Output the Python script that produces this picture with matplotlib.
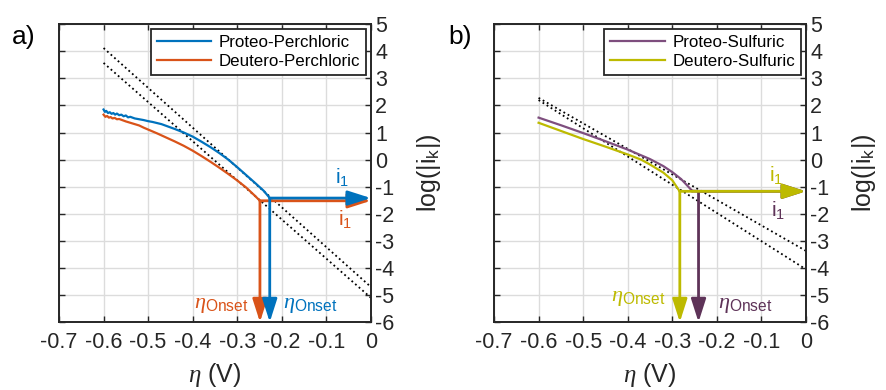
import matplotlib.pyplot as plt
from matplotlib.ticker import FormatStrFormatter

plt.rcParams['font.family'] = ['Liberation Sans', 'DejaVu Sans']
plt.rcParams['axes.unicode_minus'] = False
plt.rcParams['mathtext.fontset'] = 'custom'
plt.rcParams['mathtext.rm'] = 'Liberation Sans'
plt.rcParams['mathtext.it'] = 'Liberation Serif:italic'

# ---------- panel a data ----------
proteo_pc_eta = [-0.600, -0.597, -0.594, -0.590, -0.586, -0.582, -0.578, -0.574, -0.570, -0.565,
                 -0.560, -0.555, -0.550, -0.545, -0.540, -0.530, -0.520, -0.510, -0.500, -0.490,
                 -0.480, -0.470, -0.460, -0.450, -0.440, -0.420, -0.400, -0.380, -0.360, -0.340,
                 -0.320, -0.300, -0.280, -0.260, -0.240, -0.227]
proteo_pc_log = [1.85, 1.76, 1.80, 1.72, 1.75, 1.69, 1.72, 1.66, 1.70, 1.64,
                 1.66, 1.60, 1.63, 1.56, 1.58, 1.52, 1.49, 1.46, 1.42, 1.39,
                 1.35, 1.31, 1.25, 1.19, 1.13, 1.00, 0.85, 0.66, 0.46, 0.24,
                 0.00, -0.28, -0.57, -0.86, -1.16, -1.42]
deutero_pc_eta = [-0.600, -0.596, -0.592, -0.588, -0.584, -0.580, -0.575, -0.570, -0.565, -0.560,
                  -0.555, -0.550, -0.540, -0.530, -0.520, -0.510, -0.500, -0.480, -0.460, -0.440,
                  -0.420, -0.400, -0.380, -0.360, -0.340, -0.320, -0.300, -0.280, -0.260, -0.249]
deutero_pc_log = [1.66, 1.58, 1.61, 1.55, 1.57, 1.52, 1.54, 1.49, 1.50, 1.47,
                  1.44, 1.41, 1.36, 1.31, 1.26, 1.18, 1.11, 0.97, 0.82, 0.67,
                  0.51, 0.33, 0.13, -0.08, -0.30, -0.53, -0.77, -1.03, -1.34, -1.52]
tafel_a_start = [4.12, 3.57]   # dotted fits at eta = -0.6
tafel_a_end = [-4.70, -5.10]   # dotted fits at eta = 0
onset_a = [-0.227, -0.249]
i1_a = [-1.42, -1.52]

# ---------- panel b data ----------
proteo_s_eta = [-0.600, -0.550, -0.500, -0.450, -0.400, -0.350, -0.320, -0.300, -0.280, -0.265, -0.255]
proteo_s_log = [1.55, 1.27, 0.98, 0.68, 0.37, 0.02, -0.24, -0.46, -0.72, -0.98, -1.16]
deutero_s_eta = [-0.600, -0.550, -0.500, -0.450, -0.400, -0.370, -0.350, -0.320, -0.300, -0.283]
deutero_s_log = [1.36, 1.06, 0.76, 0.48, 0.19, 0.00, -0.18, -0.48, -0.76, -1.18]
tafel_b_start = [2.28, 2.20]
tafel_b_end = [-3.37, -4.05]
onset_b = [-0.241, -0.283]
i1_b = [-1.17, -1.17]

blue = '#0072BD'
orange = '#D95319'
purple_line = '#7E4E7E'
purple_dark = '#5E3358'
yellow = '#BDBA00'


def style_axes(ax):
    ax.set_xlim(-0.7, 0)
    ax.set_ylim(-6, 5)
    ax.set_xticks([-0.7, -0.6, -0.5, -0.4, -0.3, -0.2, -0.1, 0])
    ax.xaxis.set_major_formatter(FormatStrFormatter('%g'))
    ax.set_yticks(range(-6, 6))
    ax.grid(True, color='#dcdcdc', linewidth=1.0)
    ax.set_axisbelow(True)
    ax.tick_params(direction='in', length=4, width=1.0, labelsize=15.5, colors='#262626',
                   top=True, right=True, left=True, labelleft=False, labelright=True,
                   labelcolor='#262626')
    ax.tick_params(axis='x', pad=7)
    ax.tick_params(axis='y', pad=3)
    for sp in ax.spines.values():
        sp.set_color('#262626')
        sp.set_linewidth(1.4)
    ax.yaxis.set_label_position('right')
    ax.set_ylabel(r'log(|i$_{\mathrm{k}}$|)', fontsize=18, labelpad=15, color='#262626')
    ax.set_xlabel(r'$\eta$ (V)', fontsize=18, labelpad=6, color='#262626')


def arrow(ax, x0, y0, x1, y1, color):
    ax.annotate('', xy=(x1, y1), xytext=(x0, y0),
                arrowprops=dict(arrowstyle='-|>,head_length=1.0,head_width=0.32',
                                color=color, lw=2.0, shrinkA=0, shrinkB=0,
                                mutation_scale=14),
                annotation_clip=False)


def add_legend(ax):
    leg = ax.legend(loc='upper right', fontsize=12.2, fancybox=False, framealpha=1,
                    edgecolor='#262626', handlelength=3.2, borderaxespad=0.3,
                    labelspacing=0.2, borderpad=0.35, handletextpad=0.45)
    leg.get_frame().set_linewidth(1.3)


fig = plt.figure(figsize=(8.86, 3.90), dpi=100)
ax1 = fig.add_axes([0.0666, 0.174, 0.352, 0.764])
ax2 = fig.add_axes([0.5576, 0.174, 0.352, 0.764])

# panel a
style_axes(ax1)
for s, e in zip(tafel_a_start, tafel_a_end):
    ax1.plot([-0.6, 0], [s, e], ':', color='black', lw=1.3)
ax1.plot(proteo_pc_eta, proteo_pc_log, color=blue, lw=1.6, label='Proteo-Perchloric')
ax1.plot(deutero_pc_eta, deutero_pc_log, color=orange, lw=1.6, label='Deutero-Perchloric')
for x, y, c in [(onset_a[1], i1_a[1], orange), (onset_a[0], i1_a[0], blue)]:
    arrow(ax1, x, y, 0, y, c)
    arrow(ax1, x, y, x, -6, c)
ax1.text(-0.065, -0.65, r'i$_1$', color=blue, fontsize=15, ha='center', va='center')
ax1.text(-0.058, -2.2, r'i$_1$', color=orange, fontsize=15, ha='center', va='center')
ax1.text(-0.335, -5.35, r'$\eta_{\mathrm{Onset}}$', color=orange, fontsize=16, ha='center', va='center')
ax1.text(-0.135, -5.35, r'$\eta_{\mathrm{Onset}}$', color=blue, fontsize=16, ha='center', va='center')
add_legend(ax1)

# panel b
style_axes(ax2)
for s, e in zip(tafel_b_start, tafel_b_end):
    ax2.plot([-0.6, 0], [s, e], ':', color='black', lw=1.3)
ax2.plot(proteo_s_eta, proteo_s_log, color=purple_line, lw=1.6, label='Proteo-Sulfuric')
ax2.plot(deutero_s_eta, deutero_s_log, color=yellow, lw=1.6, label='Deutero-Sulfuric')
ax2.plot([proteo_s_eta[-1], onset_b[0]], [proteo_s_log[-1], i1_b[0]], color=purple_dark, lw=2.0)
arrow(ax2, onset_b[0], i1_b[0], onset_b[0], -6, purple_dark)
arrow(ax2, onset_b[0], i1_b[0], 0, i1_b[0], purple_dark)
arrow(ax2, onset_b[1], i1_b[1], 0, i1_b[1], yellow)
arrow(ax2, onset_b[1], i1_b[1], onset_b[1], -6, yellow)
ax2.text(-0.067, -0.55, r'i$_1$', color=yellow, fontsize=15, ha='center', va='center')
ax2.text(-0.062, -1.85, r'i$_1$', color=purple_dark, fontsize=15, ha='center', va='center')
ax2.text(-0.377, -5.1, r'$\eta_{\mathrm{Onset}}$', color=yellow, fontsize=16, ha='center', va='center')
ax2.text(-0.137, -5.35, r'$\eta_{\mathrm{Onset}}$', color=purple_dark, fontsize=16, ha='center', va='center')
add_legend(ax2)

fig.text(0.027, 0.905, 'a)', fontsize=19, ha='center', va='center')
fig.text(0.519, 0.905, 'b)', fontsize=19, ha='center', va='center')

plt.savefig('out.png', dpi=100)
